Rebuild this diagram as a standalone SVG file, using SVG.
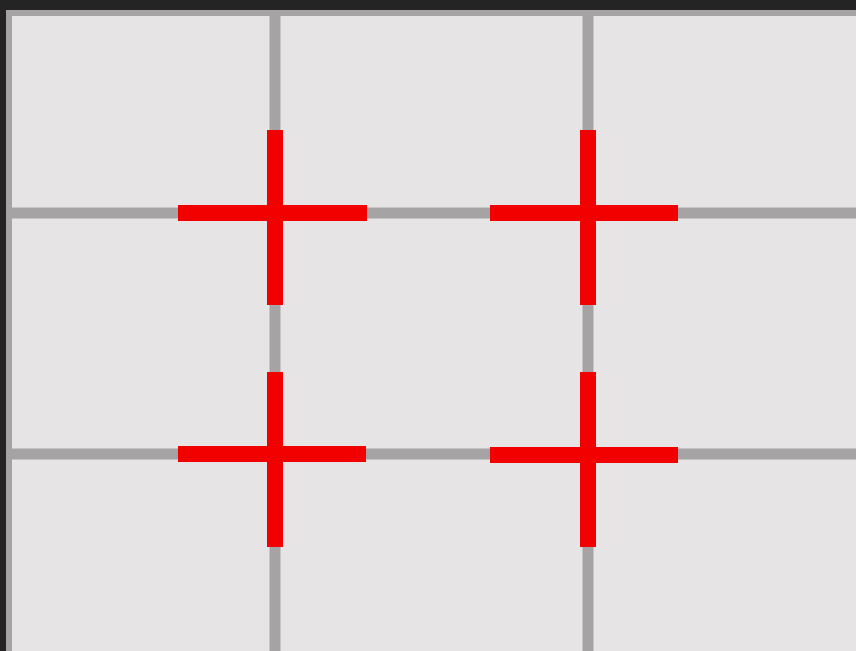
<svg xmlns="http://www.w3.org/2000/svg" width="856" height="651" viewBox="0 0 856 651">
<style>
.grid{stroke:#a6a3a5;stroke-width:11;fill:none}
.cross{stroke:#f20000;stroke-width:16;fill:none}
</style>
<rect x="0" y="0" width="856" height="651" fill="#242424"/>
<rect x="6" y="10" width="850" height="641" fill="#a6a3a5"/>
<rect x="12" y="16" width="844" height="635" fill="#e7e4e6"/>
<g id="grid" class="grid">
<line x1="275" y1="10" x2="275" y2="651"/>
<line x1="588" y1="10" x2="588" y2="651"/>
<line x1="6" y1="213" x2="856" y2="213"/>
<line x1="6" y1="454" x2="856" y2="454"/>
</g>
<g id="cross-tl" class="cross">
<line x1="275" y1="130" x2="275" y2="305"/>
<line x1="178" y1="213" x2="367" y2="213"/>
</g>
<g id="cross-tr" class="cross">
<line x1="588" y1="130" x2="588" y2="305"/>
<line x1="490" y1="213" x2="678" y2="213"/>
</g>
<g id="cross-bl" class="cross">
<line x1="275" y1="372" x2="275" y2="547"/>
<line x1="178" y1="454" x2="366" y2="454"/>
</g>
<g id="cross-br" class="cross">
<line x1="588" y1="372" x2="588" y2="547"/>
<line x1="490" y1="455" x2="678" y2="455"/>
</g>
</svg>
